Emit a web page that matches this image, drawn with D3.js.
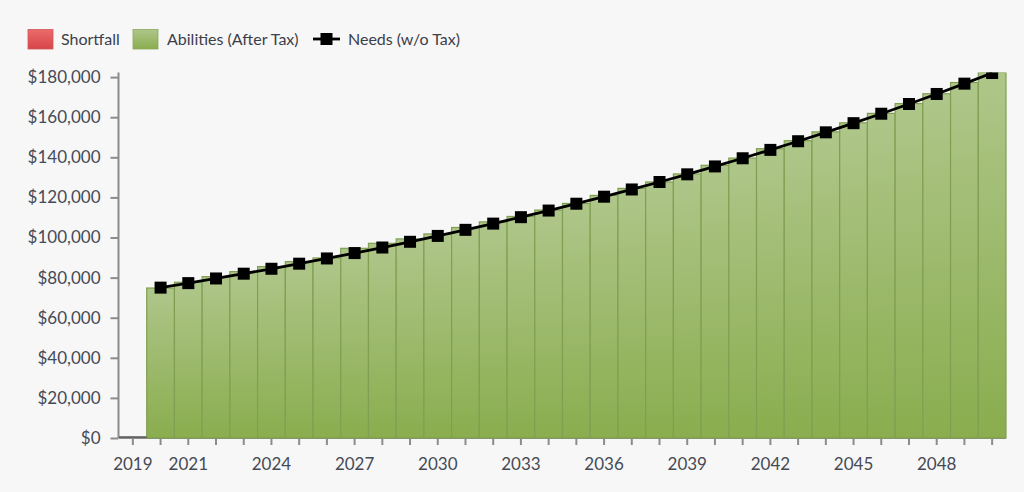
<!DOCTYPE html>
<html lang="en">
<head>
  <meta charset="UTF-8" />
  <title>Needs vs Abilities</title>
  <script src="https://d3js.org/d3.v7.min.js"></script>
  <style>
    body { margin: 0; background: #f7f7f7; font-family: Lato, "Open Sans", sans-serif; }
    svg { display: block; }
    .axis text { fill: #454a55; font-family: Lato, sans-serif; font-size: 17px; }
    .axis path, .axis line { stroke: #8c8c8c; stroke-width: 2; }
    .legend text { fill: #3c404a; font-size: 16px; }
  </style>
</head>
<body>
  <svg id="chart" width="1024" height="492"></svg>

  <script>
    // data
    const years = d3.range(2019, 2051).map(String);
    const abilities = [
      0, 74800, 77700, 80500, 83000, 85500, 88000, 89800, 94600, 97100,
      99300, 101800, 105000, 107800, 110500, 113700, 117000, 121000, 124500, 127700,
      131700, 136000, 139600, 144300, 148300, 152700, 157200, 161900, 166800, 171700,
      177300, 182300
    ];
    const shortfall = years.map(() => 0);
    const needs = [
      null, 75000, 77250, 79570, 81950, 84410, 86940, 89550, 92240, 95010,
      97860, 100790, 103820, 106930, 110140, 113440, 116850, 120350, 123960, 127680,
      131510, 135450, 139520, 143700, 148020, 152460, 157030, 161740, 166590, 171590,
      176740, 182040
    ];
    const xLabels = ["2019", "2021", "2024", "2027", "2030", "2033", "2036", "2039", "2042", "2045", "2048"];
    const yTicks = d3.range(0, 180001, 20000);

    const svg = d3.select("#chart");
    const m = { left: 119, right: 18, top: 72.5, bottom: 54 };
    const W = 1024, H = 492;

    const x = d3.scaleBand().domain(years).range([m.left, W - m.right]).padding(0);
    const y = d3.scaleLinear().domain([0, d3.max(abilities)]).range([H - m.bottom, m.top]);

    const defs = svg.append("defs");
    function grad(id, top, bottom) {
      const g = defs.append("linearGradient").attr("id", id)
        .attr("x1", 0).attr("y1", 0).attr("x2", 0).attr("y2", 1);
      g.append("stop").attr("offset", "0%").attr("stop-color", top);
      g.append("stop").attr("offset", "100%").attr("stop-color", bottom);
    }
    grad("gGreen", "#afc68a", "#8aad4e");
    grad("gRed", "#ea6b6b", "#d8444a");

    defs.append("clipPath").attr("id", "plot")
      .append("rect")
      .attr("x", m.left).attr("y", m.top)
      .attr("width", W - m.left - m.right + 10)
      .attr("height", H - m.top - m.bottom + 2);

    // axes
    svg.append("g")
      .attr("class", "axis")
      .attr("transform", `translate(0,${H - m.bottom})`)
      .call(d3.axisBottom(x).tickSize(7).tickPadding(13)
        .tickFormat(d => xLabels.includes(d) ? d : ""))
      .call(g => g.select(".domain").attr("d", `M${m.left},0H${W - m.right}`));

    svg.append("g")
      .attr("class", "axis")
      .attr("transform", `translate(${m.left - 0.5},0)`)
      .call(d3.axisLeft(y).tickValues(yTicks).tickSize(8).tickPadding(10)
        .tickFormat(d => "$" + d3.format(",")(d)))
      .call(g => g.select(".domain").attr("d", `M0,${m.top}V${H - m.bottom}`));

    const plot = svg.append("g").attr("clip-path", "url(#plot)");

    // bars
    plot.selectAll("rect.bar")
      .data(years)
      .join("rect")
      .attr("class", "bar")
      .attr("x", d => x(d))
      .attr("width", x.bandwidth())
      .attr("y", (d, i) => y(abilities[i]))
      .attr("height", (d, i) => y(0) - y(abilities[i]))
      .attr("fill", "url(#gGreen)")
      .attr("stroke", "#809f52")
      .attr("stroke-width", 1.2);

    // zero height bar of the first year
    plot.append("line")
      .attr("x1", x(years[0])).attr("x2", x(years[0]) + x.bandwidth())
      .attr("y1", y(0) - 1).attr("y2", y(0) - 1)
      .attr("stroke", "#555").attr("stroke-width", 1.5);

    // needs line
    const pts = years.map((d, i) => ({ year: d, v: needs[i] })).filter(p => p.v != null);
    const line = d3.line()
      .x(p => x(p.year) + x.bandwidth() / 2)
      .y(p => y(p.v));

    plot.append("path")
      .datum(pts)
      .attr("d", line)
      .attr("fill", "none")
      .attr("stroke", "#000")
      .attr("stroke-width", 2.8);

    const s = 12;
    plot.selectAll("rect.mk")
      .data(pts)
      .join("rect")
      .attr("class", "mk")
      .attr("x", p => x(p.year) + x.bandwidth() / 2 - s / 2)
      .attr("y", p => y(p.v) - s / 2)
      .attr("width", s)
      .attr("height", s)
      .attr("fill", "#000");

    // legend
    const lg = svg.append("g").attr("class", "legend");
    lg.append("rect").attr("x", 28).attr("y", 29.5).attr("width", 25).attr("height", 19.5)
      .attr("fill", "url(#gRed)").attr("stroke", "#d0575a").attr("stroke-width", 0.8);
    lg.append("text").attr("x", 61).attr("y", 44.5).text("Shortfall");

    lg.append("rect").attr("x", 133).attr("y", 29.5).attr("width", 25).attr("height", 19.5)
      .attr("fill", "url(#gGreen)").attr("stroke", "#8aa85c").attr("stroke-width", 0.8);
    lg.append("text").attr("x", 167).attr("y", 44.5).text("Abilities (After Tax)");

    lg.append("line").attr("x1", 313).attr("x2", 340).attr("y1", 39).attr("y2", 39)
      .attr("stroke", "#000").attr("stroke-width", 2.8);
    lg.append("rect").attr("x", 320.5).attr("y", 33).attr("width", 12).attr("height", 12)
      .attr("fill", "#000");
    lg.append("text").attr("x", 348).attr("y", 44.5).text("Needs (w/o Tax)");
  </script>
</body>
</html>
